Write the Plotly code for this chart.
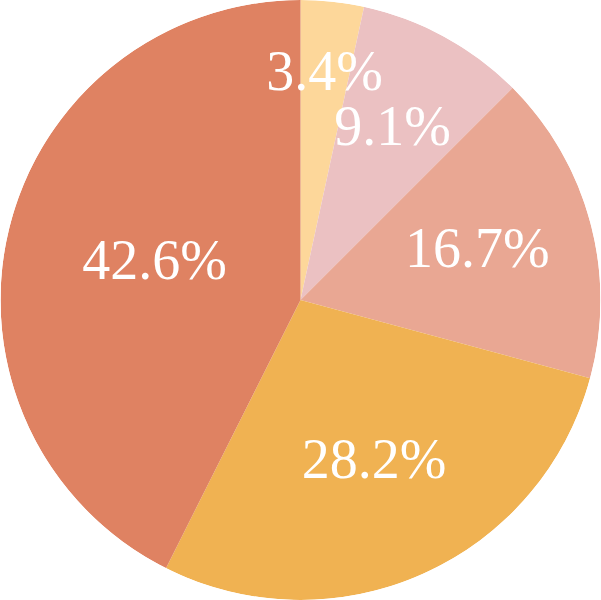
import plotly.graph_objects as go

labels = ["3.4%", "9.1%", "16.7%", "28.2%", "42.6%"]
values = [3.4, 9.1, 16.7, 28.2, 42.6]
colors = ["#FDD79A", "#EBC1C2", "#E9A793", "#F0B252", "#DF8262"]

# label distance from centre, as a fraction of the radius (style)
label_dist = [0.75, 0.64, 0.61, 0.60, 0.50]

total = sum(values)
widths = [v / total * 360 for v in values]
mids = []
acc = 0.0
for w in widths:
    mids.append(acc + w / 2)
    acc += w

fig = go.Figure()
fig.add_trace(go.Barpolar(
    r=[1] * len(values), theta=mids, width=widths,
    marker=dict(color=colors, line=dict(width=0)),
    hoverinfo="skip", showlegend=False,
))
fig.add_trace(go.Scatterpolar(
    r=label_dist, theta=mids, mode="text", text=labels,
    textfont=dict(family="Liberation Serif", size=56, color="white"),
    textposition="middle center", hoverinfo="skip", showlegend=False,
))
fig.update_layout(
    width=601, height=600, margin=dict(l=0, r=0, t=0, b=0),
    paper_bgcolor="white",
    polar=dict(
        domain=dict(x=[0, 1], y=[0, 1]), bgcolor="white", bargap=0, hole=0,
        radialaxis=dict(range=[0, 1], visible=False, showgrid=False),
        angularaxis=dict(rotation=90, direction="clockwise", visible=False,
                         showgrid=False, showline=False, ticks=""),
    ),
)
fig.write_html("out.html", post_script="document.body.style.margin='0';",
               config={"displayModeBar": False})
